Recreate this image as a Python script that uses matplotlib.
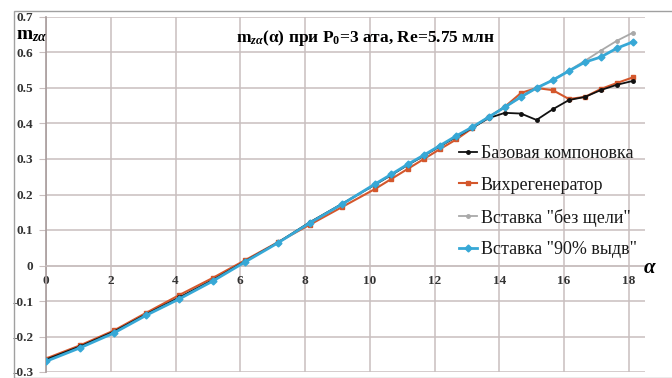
import matplotlib
matplotlib.use("Agg")
import matplotlib.pyplot as plt
from matplotlib.patches import Rectangle

plt.rcParams['font.family'] = ['Liberation Serif', 'DejaVu Serif']
plt.rcParams['mathtext.fontset'] = 'custom'
plt.rcParams['mathtext.rm'] = 'Liberation Serif:bold'
plt.rcParams['mathtext.bf'] = 'Liberation Serif:bold'
plt.rcParams['mathtext.it'] = 'Liberation Serif:italic:bold'

alpha = [0, 1.05, 2.1, 3.1, 4.12, 5.15, 6.15, 7.15, 8.15, 9.15, 10.17, 10.67,
         11.17, 11.67, 12.17, 12.67, 13.17, 13.67, 14.17, 14.67, 15.15, 15.65,
         16.15, 16.65, 17.13, 17.63, 18.13]

base = [-0.265, -0.228, -0.186, -0.137, -0.09, -0.041, 0.012, 0.064, 0.122, 0.174,
        0.228, 0.255, 0.283, 0.309, 0.336, 0.362, 0.388, 0.415, 0.43, 0.428,
        0.41, 0.44, 0.466, 0.475, 0.494, 0.509, 0.52]
vortex = [-0.262, -0.225, -0.183, -0.133, -0.083, -0.035, 0.015, 0.065, 0.115, 0.165,
          0.216, 0.244, 0.272, 0.3, 0.328, 0.355, 0.387, 0.418, 0.447, 0.486,
          0.5, 0.494, 0.469, 0.475, 0.497, 0.514, 0.53]
noslot = [-0.265, -0.228, -0.186, -0.137, -0.09, -0.041, 0.012, 0.064, 0.121, 0.174,
          0.229, 0.256, 0.284, 0.31, 0.337, 0.364, 0.39, 0.418, 0.446, 0.474,
          0.5, 0.523, 0.549, 0.577, 0.605, 0.633, 0.656]
pct90 = [-0.27, -0.232, -0.19, -0.14, -0.094, -0.044, 0.01, 0.063, 0.12, 0.173,
         0.23, 0.257, 0.285, 0.311, 0.338, 0.365, 0.39, 0.418, 0.446, 0.475,
         0.5, 0.522, 0.548, 0.573, 0.587, 0.612, 0.63]

labels = ['Базовая компоновка', 'Вихрегенератор', 'Вставка "без щели"', 'Вставка "90% выдв"']
xticks = [0, 2, 4, 6, 8, 10, 12, 14, 16, 18]
yticks = [-0.3, -0.2, -0.1, 0, 0.1, 0.2, 0.3, 0.4, 0.5, 0.6, 0.7]
yticklabels = ['-0.3', '-0.2', '-0.1', '0', '0.1', '0.2', '0.3', '0.4', '0.5', '0.6', '0.7']

grid_c = '#c9bfbf'

fig = plt.figure(figsize=(6.72, 3.78), dpi=100)
fig.patches.append(Rectangle((14/672, 0), 660/672, 1-11/378, transform=fig.transFigure,
                             fill=False, edgecolor='#a0a0a0', lw=1.0))
ax = fig.add_axes([46/672, 1-372/378, (645-46)/672, (372-17)/378])

ax.plot(alpha, base, color='#111111', lw=1.3, marker='o', ms=2.5, label=labels[0], zorder=4)
ax.plot(alpha, vortex, color='#d4572c', lw=1.5, marker='s', ms=3.5, label=labels[1], zorder=3)
ax.plot(alpha, noslot, color='#a9a9a9', lw=1.3, marker='o', ms=2.5, label=labels[2], zorder=2)
ax.plot(alpha, pct90, color='#37a8d6', lw=2.0, marker='D', ms=3.5, label=labels[3], zorder=5)

ax.set_xlim(0, 18.5)
ax.set_ylim(-0.3, 0.7)
ax.set_xticks(xticks)
ax.set_yticks(yticks)
ax.set_yticklabels(yticklabels)
ax.grid(True, color=grid_c, lw=1.1)
ax.set_axisbelow(True)

for s in ['top', 'right']:
    ax.spines[s].set_visible(False)
ax.spines['left'].set_color('#a89c9c')
ax.spines['left'].set_linewidth(1.2)
ax.spines['bottom'].set_position(('data', 0))
ax.spines['bottom'].set_color(grid_c)
ax.spines['bottom'].set_linewidth(1.1)

ax.tick_params(axis='x', length=0, pad=7, labelsize=9.5, labelcolor='#333333')
ax.tick_params(axis='y', length=5, color=grid_c, pad=4, labelsize=9.5, labelcolor='#333333')
for t in ax.get_xticklabels() + ax.get_yticklabels():
    t.set_fontweight('bold')

fig.text(365/672, 1-38/378, r'm$_{z\alpha}$(α) при P$_0$=3 ата, Re=5.75 млн',
         ha='center', va='center', fontsize=12.5, fontweight='bold')
fig.text(16/672, 1-35/378, r'm$_{z\alpha}$', ha='left', va='center', fontsize=14, fontweight='bold')
fig.text(644/672, 1-268/378, 'α', ha='left', va='center', fontsize=15, fontweight='bold', style='italic')

leg = ax.legend(loc='upper left', bbox_to_anchor=((459-46)/599, 1-(145-17)/355), frameon=False,
                fontsize=13, handlelength=1.0, handletextpad=0.2, labelspacing=0.82,
                borderaxespad=0, borderpad=0)
for txt in leg.get_texts():
    txt.set_color('#1a1a1a')

fig.savefig('out.png', dpi=100)
